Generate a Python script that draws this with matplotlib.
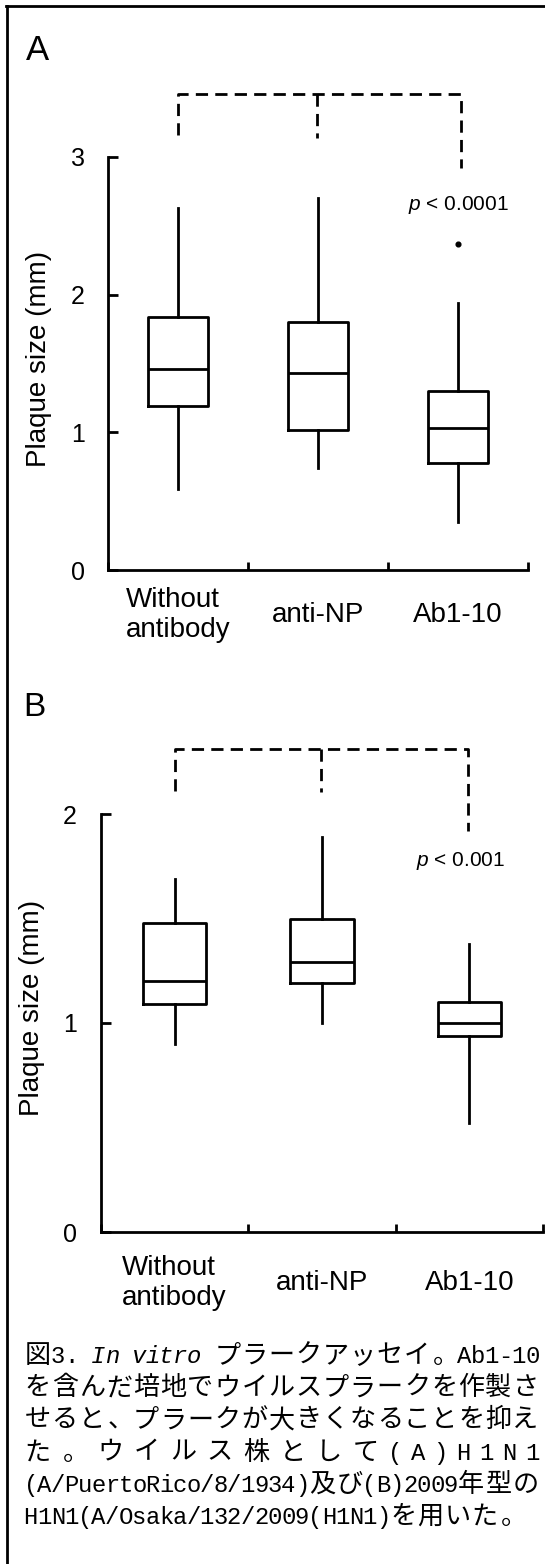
import matplotlib
matplotlib.use('Agg')
import matplotlib.pyplot as plt
from matplotlib.lines import Line2D

W, H = 545, 1564
plt.rcParams['font.family'] = ['Liberation Sans', 'DejaVu Sans']
plt.rcParams['mathtext.fontset'] = 'custom'
plt.rcParams['mathtext.it'] = 'Liberation Sans:italic'
plt.rcParams['mathtext.rm'] = 'Liberation Sans'

groups = ['Without\nantibody', 'anti-NP', 'Ab1-10']

# panel A (mm)
a_whislo = [0.59, 0.74, 0.35]
a_q1 = [1.19, 1.02, 0.78]
a_med = [1.46, 1.43, 1.03]
a_q3 = [1.84, 1.80, 1.30]
a_whishi = [2.63, 2.70, 1.94]
a_fliers = [[], [], [2.37]]
a_bracket_x = [0.5, 1.49, 2.52]
a_bracket_end = [3.16, 3.14, 2.92]
a_bracket_top = 3.46
a_p_text = '$p$ < 0.0001'

# panel B (mm)
b_whislo = [0.90, 1.00, 0.52]
b_q1 = [1.09, 1.19, 0.94]
b_med = [1.20, 1.29, 1.00]
b_q3 = [1.48, 1.50, 1.10]
b_whishi = [1.69, 1.89, 1.38]
b_fliers = [[], [], []]
b_bracket_x = [0.5, 1.49, 2.49]
b_bracket_end = [2.11, 2.105, 1.92]
b_bracket_top = 2.31
b_p_text = '$p$ < 0.001'

caption_lines = [
    [('図', 'j'), ('3. ', 'a'), ('In vitro', 'i'), (' ', 'a'), ('プラークアッセイ。', 'j'), ('Ab1-10', 'a')],
    [('を含んだ培地でウイルスプラークを作製さ', 'j')],
    [('せると、プラークが大きくなることを抑え', 'j')],
    [('た。ウイルス株として', 'j'), ('(A)H1N1', 'a')],
    [('(A/PuertoRico/8/1934)', 'a'), ('及び', 'j'), ('(B)2009', 'a'), ('年型の', 'j')],
    [('H1N1(A/Osaka/132/2009(H1N1)', 'a'), ('を用いた。', 'j')],
]
caption_justify = [True, True, True, True, True, False]


def fx(px):
    return px / W


def fy(py):
    return 1 - py / H


fig = plt.figure(figsize=(W / 100, H / 100), dpi=100)

LW = 2.0


def panel(box, whislo, q1, med, q3, whishi, fliers, ymax, bx, bend, btop,
          ptext, pxy, ypad, xpad):
    left, right, top, bottom = box
    ax = fig.add_axes([fx(left), fy(bottom), (right - left) / W, (bottom - top) / H])
    stats = []
    for i in range(3):
        stats.append(dict(whislo=whislo[i], q1=q1[i], med=med[i], q3=q3[i],
                          whishi=whishi[i], fliers=fliers[i]))
    ax.bxp(stats, positions=[0.5, 1.5, 2.5], widths=0.43, showcaps=False,
           manage_ticks=False,
           boxprops=dict(color='k', lw=LW),
           whiskerprops=dict(color='k', lw=LW),
           medianprops=dict(color='k', lw=LW),
           flierprops=dict(marker='o', markerfacecolor='k', markeredgecolor='k',
                           markersize=3.4))
    ax.set_xlim(0, 3)
    ax.set_ylim(0, ymax)
    for s in ['top', 'right']:
        ax.spines[s].set_visible(False)
    for s in ['left', 'bottom']:
        ax.spines[s].set_linewidth(LW)
    ax.set_yticks(range(ymax + 1))
    ax.set_xticks([0, 1, 2, 3], labels=[])
    ax.set_xticks([0.5, 1.5, 2.5], labels=groups, minor=True)
    ax.tick_params(axis='y', direction='in', length=7, width=LW, labelsize=18, pad=ypad)
    ax.tick_params(axis='x', which='major', direction='in', length=5.5, width=LW)
    ax.tick_params(axis='x', which='minor', length=0, labelsize=20, pad=xpad)
    for t in ax.xaxis.get_minor_ticks():
        t.label1.set_va('center')
        t.label1.set_multialignment('left')

    dash = dict(color='k', lw=LW, linestyle=(0, (4.4, 2.6)), clip_on=False,
                solid_capstyle='butt', dash_capstyle='butt')
    ax.plot([bx[0], bx[0], bx[2], bx[2]], [bend[0], btop, btop, bend[2]], **dash)
    ax.plot([bx[1], bx[1]], [btop, bend[1]], **dash)
    ax.text(pxy[0], pxy[1], ptext, ha='center', va='center', fontsize=15, clip_on=False)
    return ax


panel((108, 528, 157, 570), a_whislo, a_q1, a_med, a_q3, a_whishi, a_fliers, 3,
      a_bracket_x, a_bracket_end, a_bracket_top, a_p_text, (2.5, 2.65), 16.5, 32.5)
panel((101, 543, 814, 1232), b_whislo, b_q1, b_med, b_q3, b_whishi, b_fliers, 2,
      b_bracket_x, b_bracket_end, b_bracket_top, b_p_text, (2.44, 1.775), 17.5, 36.5)

# panel letters and axis titles
fig.text(fx(26), fy(50), 'A', fontsize=25, ha='left', va='center')
fig.text(fx(23), fy(708), 'B', fontsize=24, ha='left', va='center')
fig.text(fx(39), fy(359), 'Plaque size (mm)', fontsize=20, rotation=90, ha='center', va='center')
fig.text(fx(32), fy(1008), 'Plaque size (mm)', fontsize=20, rotation=90, ha='center', va='center')

# outer frame (left and top)
fig.add_artist(Line2D([fx(7), fx(7)], [fy(6), 0], color='k', lw=2))
fig.add_artist(Line2D([fx(6), 1], [fy(6), fy(6)], color='k', lw=2))

# caption, one glyph per cell, justified like the original
EM = 27.1
CAP_LEFT, CAP_RIGHT = 24, 539
BASE0, LINE_STEP = 1363, 32.2
jp_font = dict(family=['Noto Sans CJK JP', 'DejaVu Sans'], fontsize=18.8)
en_font = dict(family=['Liberation Mono', 'DejaVu Sans Mono'], fontsize=17.2)

for row, (segs, just) in enumerate(zip(caption_lines, caption_justify)):
    chars = [(c, kind) for text, kind in segs for c in text]
    widths = [EM if kind == 'j' else EM / 2 for c, kind in chars]
    gap = 0
    if just:
        gap = (CAP_RIGHT - CAP_LEFT - sum(widths)) / (len(chars) - 1)
    x = CAP_LEFT
    y = BASE0 + row * LINE_STEP
    for (c, kind), w in zip(chars, widths):
        if c != ' ':
            if kind == 'j':
                if c in '。、':
                    fig.text(fx(x + 0.1 * EM), fy(y), c, ha='left', va='baseline', **jp_font)
                else:
                    fig.text(fx(x + w / 2), fy(y), c, ha='center', va='baseline', **jp_font)
            else:
                style = 'italic' if kind == 'i' else 'normal'
                fig.text(fx(x + w / 2), fy(y), c, ha='center', va='baseline',
                         style=style, **en_font)
        x += w + gap

fig.savefig('out.png', dpi=100)
